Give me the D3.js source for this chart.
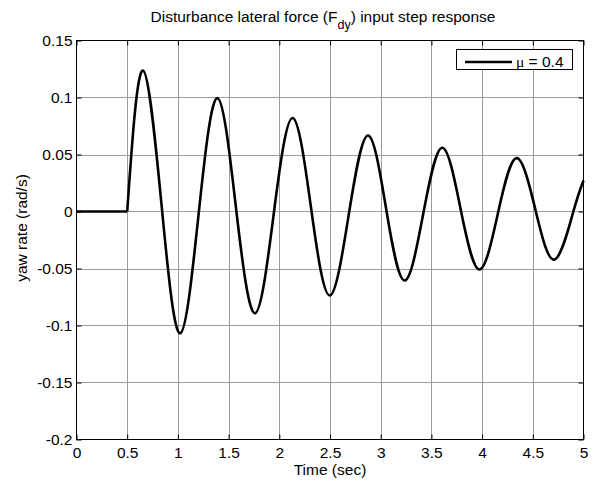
<!DOCTYPE html>
<html>
<head>
<meta charset="utf-8">
<script src="https://cdn.jsdelivr.net/npm/d3@7"></script>
<style>
  body { margin: 0; background: #fff; }
  svg { display: block; font-family: "Liberation Sans", Arial, sans-serif; }
</style>
</head>
<body>
<div class="container"></div>
<script>
const WIDTH = 596,
    HEIGHT = 485,
    LEFT = 76.5,
    RIGHT = 583.5,
    TOP = 40.5,
    BOTTOM = 439.5,
    FONT = 15.5;

const timeSec = [0, 0.5, 0.656, 0.845, 1.024, 1.207, 1.391, 1.577, 1.762,
    1.948, 2.133, 2.318, 2.5, 2.69, 2.877, 3.058, 3.238, 3.424, 3.609, 3.793, 3.976,
    4.16, 4.343, 4.53, 4.715, 4.9, 5.0];
const yawRate = [0, 0, 0.1237, 0, -0.1068, 0, 0.0994, 0, -0.0892,
    0, 0.082, 0, -0.0737, 0, 0.0667, 0, -0.0605, 0, 0.0559, 0, -0.0509,
    0, 0.0468, 0, -0.0421, 0, 0.0272];
const xTicks = [0, 0.5, 1, 1.5, 2, 2.5, 3, 3.5, 4, 4.5, 5];
const yTicks = [-0.2, -0.15, -0.1, -0.05, 0, 0.05, 0.1, 0.15];
const legendLabel = 'μ = 0.4';

const xScale = d3.scaleLinear().domain([0, 5]).range([LEFT, RIGHT]);
const yScale = d3.scaleLinear().domain([-0.2, 0.15]).range([BOTTOM, TOP]);

var svg = d3.select('.container').append('svg')
    .attr('width', WIDTH)
    .attr('height', HEIGHT);

svg.append('rect').attr('width', WIDTH).attr('height', HEIGHT).attr('fill', '#fff');

// grid
var grid = svg.append('g').attr('stroke', '#9c9c9c').attr('stroke-width', 1);
grid.selectAll('.vg').data(xTicks.slice(1, -1)).enter().append('line')
    .attr('x1', d => Math.round(xScale(d)) + 0.5).attr('x2', d => Math.round(xScale(d)) + 0.5)
    .attr('y1', TOP).attr('y2', BOTTOM);
grid.selectAll('.hg').data(yTicks.slice(1, -1)).enter().append('line')
    .attr('y1', d => Math.round(yScale(d)) + 0.5).attr('y2', d => Math.round(yScale(d)) + 0.5)
    .attr('x1', LEFT).attr('x2', RIGHT);

// axes, ticks pointing inside like matlab (plain hyphen for negatives)
var fmt = d => String(+d.toFixed(2));
var style = (g) => {
    g.select('.domain').remove();
    g.selectAll('text').attr('font-size', FONT).attr('font-family', null).attr('fill', '#000');
    g.selectAll('line').attr('stroke', '#000');
};
svg.append('g').attr('transform', `translate(0,${BOTTOM})`)
    .call(d3.axisBottom(xScale).tickValues(xTicks).tickSize(-5).tickPadding(7).tickFormat(fmt))
    .call(style);
svg.append('g').attr('transform', `translate(${LEFT},0)`)
    .call(d3.axisLeft(yScale).tickValues(yTicks).tickSize(-5).tickPadding(4).tickFormat(fmt))
    .call(style);
svg.append('g').attr('transform', `translate(0,${TOP})`)
    .call(d3.axisTop(xScale).tickValues(xTicks).tickSize(-5).tickFormat(''))
    .call(style);
svg.append('g').attr('transform', `translate(${RIGHT},0)`)
    .call(d3.axisRight(yScale).tickValues(yTicks).tickSize(-5).tickFormat(''))
    .call(style);

svg.append('rect')
    .attr('x', LEFT).attr('y', TOP)
    .attr('width', RIGHT - LEFT).attr('height', BOTTOM - TOP)
    .attr('fill', 'none').attr('stroke', '#000').attr('stroke-width', 1);

// response curve: flat until the step, then a damped oscillation
var pts = timeSec.map((t, i) => [t, yawRate[i]]);
var flat = pts.filter(d => d[0] <= 0.5);
var osc = pts.filter(d => d[0] >= 0.5);
var curve = svg.append('g').attr('fill', 'none').attr('stroke', '#000')
    .attr('stroke-width', 2.6).attr('stroke-linejoin', 'round');
curve.append('path')
    .attr('d', d3.line().x(d => xScale(d[0])).y(d => yScale(d[1]))(flat));
curve.append('path')
    .attr('d', d3.line().x(d => xScale(d[0])).y(d => yScale(d[1])).curve(d3.curveNatural)(osc));

// legend
var lg = svg.append('g');
lg.append('rect').attr('x', 456.5).attr('y', 49.5).attr('width', 116).attr('height', 20)
    .attr('fill', '#fff').attr('stroke', '#000').attr('stroke-width', 1);
lg.append('line').attr('x1', 465).attr('x2', 512).attr('y1', 62).attr('y2', 62)
    .attr('stroke', '#000').attr('stroke-width', 2.6);
var lt = lg.append('text').attr('x', 516).attr('y', 67).attr('font-size', FONT);
lt.append('tspan').attr('font-family', '"Liberation Serif", serif').text(legendLabel.slice(0, 1));
lt.append('tspan').text(legendLabel.slice(1));

// titles
var title = svg.append('text').attr('x', 323).attr('y', 22)
    .attr('text-anchor', 'middle').attr('font-size', FONT);
title.append('tspan').text('Disturbance lateral force (F');
title.append('tspan').attr('dy', 7).attr('font-size', 12.5).text('dy');
title.append('tspan').attr('dy', -7).text(') input step response');

svg.append('text').attr('x', (LEFT + RIGHT) / 2).attr('y', 475)
    .attr('text-anchor', 'middle').attr('font-size', FONT).text('Time (sec)');

svg.append('text').attr('transform', 'translate(27,228) rotate(-90)')
    .attr('text-anchor', 'middle').attr('font-size', FONT).text('yaw rate (rad/s)');
</script>
</body>
</html>
